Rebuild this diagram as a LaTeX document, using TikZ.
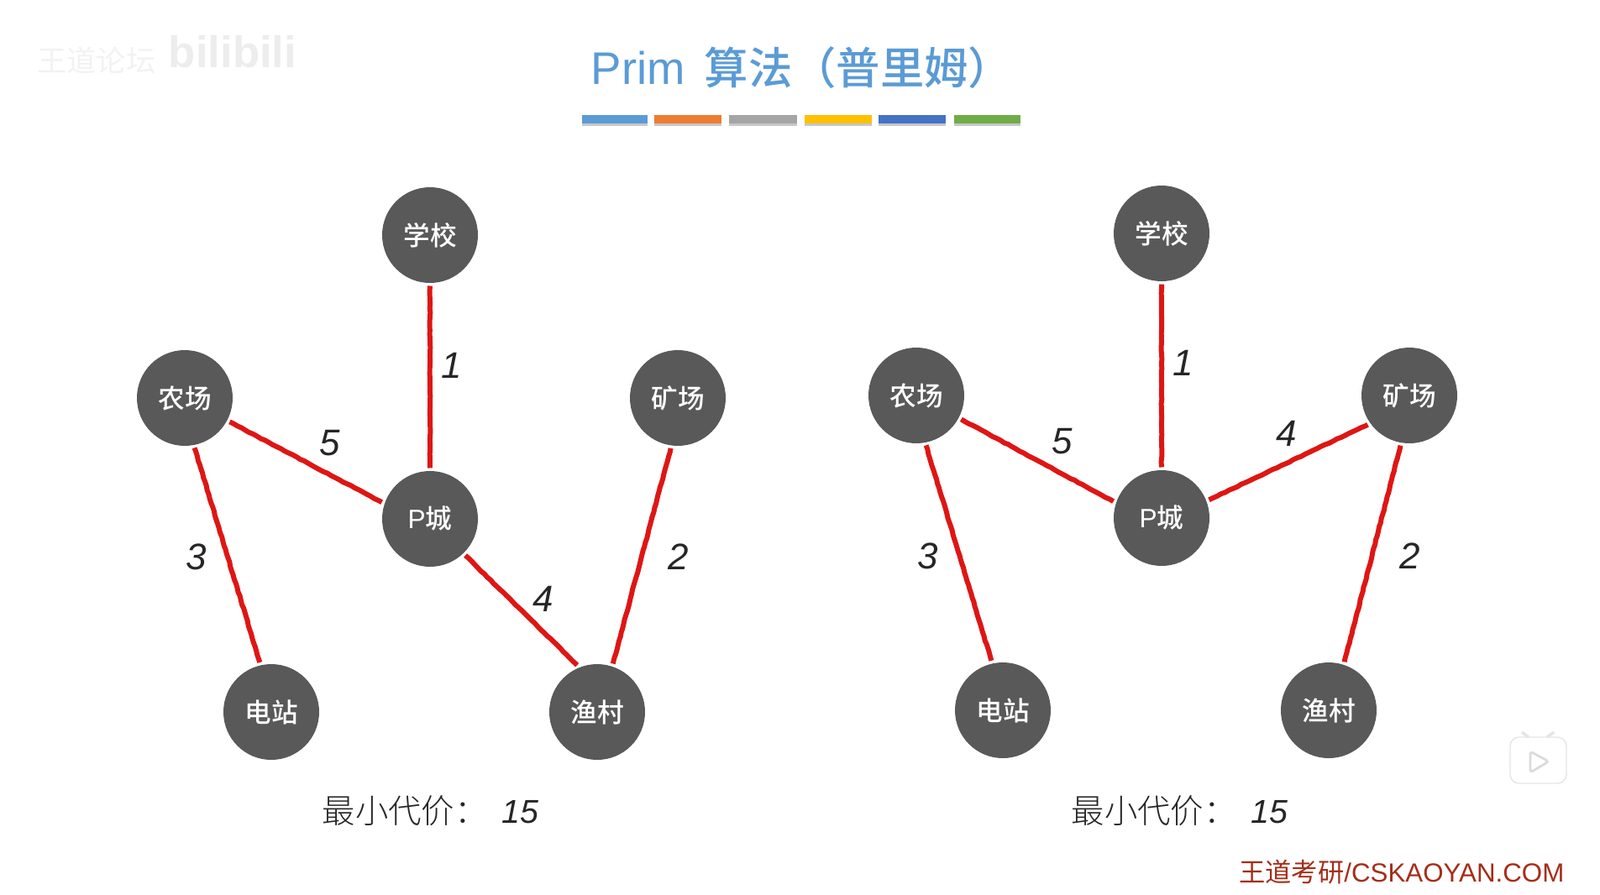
\documentclass[tikz,border=0pt]{standalone}
\usepackage{xcolor}
\usepackage{fontspec}
\usetikzlibrary{positioning,calc,decorations.pathmorphing}
\setmainfont{Liberation Sans}
\newfontfamily\cjk{Noto Sans CJK SC}
\newfontfamily\cjkmed{Noto Sans CJK SC Medium}
\newfontfamily\cjklight{Noto Sans CJK SC Light}
\definecolor{titleblue}{RGB}{91,155,213}
\definecolor{cityfill}{RGB}{89,89,89}
\definecolor{roadred}{RGB}{222,22,20}
\definecolor{sitered}{RGB}{165,45,25}
\definecolor{baro}{RGB}{237,125,49}
\definecolor{barg}{RGB}{165,165,165}
\definecolor{bary}{RGB}{255,192,0}
\definecolor{barb}{RGB}{68,114,196}
\definecolor{barv}{RGB}{112,173,71}

\begin{document}
\begin{tikzpicture}[
  city/.style={circle,fill=cityfill,minimum size=1.14cm,inner sep=0pt,outer sep=1pt,
               text=white,font=\fontsize{9}{11}\selectfont\cjkmed},
  road/.style={draw=roadred,line width=1.7pt,decorate,
               decoration={random steps,segment length=1.5pt,amplitude=0.12pt}},
  wt/.style={font=\fontsize{12.5}{15}\selectfont\itshape,text=black!85,inner sep=0pt},
  cost/.style={anchor=west,inner sep=0pt,text=black!85,font=\fontsize{11.2}{14}\selectfont},
  bar/.style={minimum height=0.1cm,inner sep=0pt,outer sep=0pt}
]
\useasboundingbox (0,0) rectangle (19.05,-10.65);
% Faint marks, top left and lower right
\node[text=black!5,font=\fontsize{10}{12}\selectfont\cjk] (mark) at (1.15,-0.72) {王道论坛};
\node[text=black!7,font=\fontsize{15}{18}\selectfont\bfseries] (bili) at (2.77,-0.62) {bilibili};
\draw[black!10,fill=white,rounded corners=3pt] (17.98,-8.78) rectangle (18.65,-9.33);
\draw[black!10,line width=1pt] (18.12,-8.72) -- (18.2,-8.78) (18.5,-8.72) -- (18.42,-8.78);
\draw[black!14,line width=0.8pt,rounded corners=1pt] (18.22,-8.95) -- (18.22,-9.2) -- (18.44,-9.07) -- cycle;

% Title and colour strip
\node[anchor=west,inner sep=0pt,text=titleblue,font=\fontsize{15.5}{18}\selectfont] (title) at (7.03,-0.81)
  {Prim\hspace{0.23cm}{\fontsize{14.9}{18}\selectfont\cjkmed 算法（普里姆）}};
\foreach \name/\xa/\w/\col in {a/7.32/0.78/titleblue,b/8.19/0.8/baro,c/9.085/0.81/barg,
                               d/9.98/0.8/bary,e/10.86/0.8/barb,f/11.755/0.79/barv} {
  \fill[black!22] (\xa-\w/2,-1.46) rectangle (\xa+\w/2,-1.5);
  \node[bar,fill=\col,minimum width=\w cm] (bar\name) at (\xa,-1.42) {};
}

% Left graph
\node[city] (lxx) at (5.12,-2.8)  {学校};
\node[city] (lnc) at (2.2,-4.74)  {农场};
\node[city] (lkc) at (8.07,-4.74) {矿场};
\node[city] (lpc) at (5.12,-6.18) {{\rmfamily P}城};
\node[city] (ldz) at (3.23,-8.48) {电站};
\node[city] (lyc) at (7.11,-8.48) {渔村};

\draw[road] (lxx) -- (lpc);
\draw[road] (lnc.-28) -- (lpc.161);
\draw[road] (lnc.-79) -- (ldz.103);
\draw[road] (lpc.-46) -- (lyc.113);
\draw[road] (lkc.-98) -- (lyc.72);

\node[wt] (lw1) at (5.38,-4.35) {1};
\node[wt] (lw5) at (3.93,-5.28) {5};
\node[wt] (lw3) at (2.34,-6.63) {3};
\node[wt] (lw2) at (8.08,-6.63) {2};
\node[wt] (lw4) at (6.47,-7.13) {4};
\node[cost] (lcost) at (3.83,-9.66) {{\cjklight 最小代价：}\hspace{0.17cm}{\itshape 15}};

% Right graph
\node[city] (rxx) at (13.83,-2.78) {学校};
\node[city] (rnc) at (10.91,-4.71) {农场};
\node[city] (rkc) at (16.78,-4.71) {矿场};
\node[city] (rpc) at (13.83,-6.17) {{\rmfamily P}城};
\node[city] (rdz) at (11.94,-8.46) {电站};
\node[city] (ryc) at (15.82,-8.46) {渔村};

\draw[road] (rxx) -- (rpc);
\draw[road] (rnc.-28) -- (rpc.161);
\draw[road] (rnc.-79) -- (rdz.103);
\draw[road] (rpc.21) -- (rkc.215);
\draw[road] (rkc.-100) -- (ryc.72);

\node[wt] (rw1) at (14.09,-4.32) {1};
\node[wt] (rw5) at (12.65,-5.26) {5};
\node[wt] (rw4) at (15.32,-5.16) {4};
\node[wt] (rw3) at (11.05,-6.62) {3};
\node[wt] (rw2) at (16.79,-6.62) {2};
\node[cost] (rcost) at (12.75,-9.66) {{\cjklight 最小代价：}\hspace{0.17cm}{\itshape 15}};

% Site name
\node[anchor=east,inner sep=0pt,text=sitered,font=\fontsize{8.9}{11}\selectfont] (site) at (18.63,-10.39)
  {{\cjk 王道考研}/CSKAOYAN.COM};
\end{tikzpicture}
\end{document}
